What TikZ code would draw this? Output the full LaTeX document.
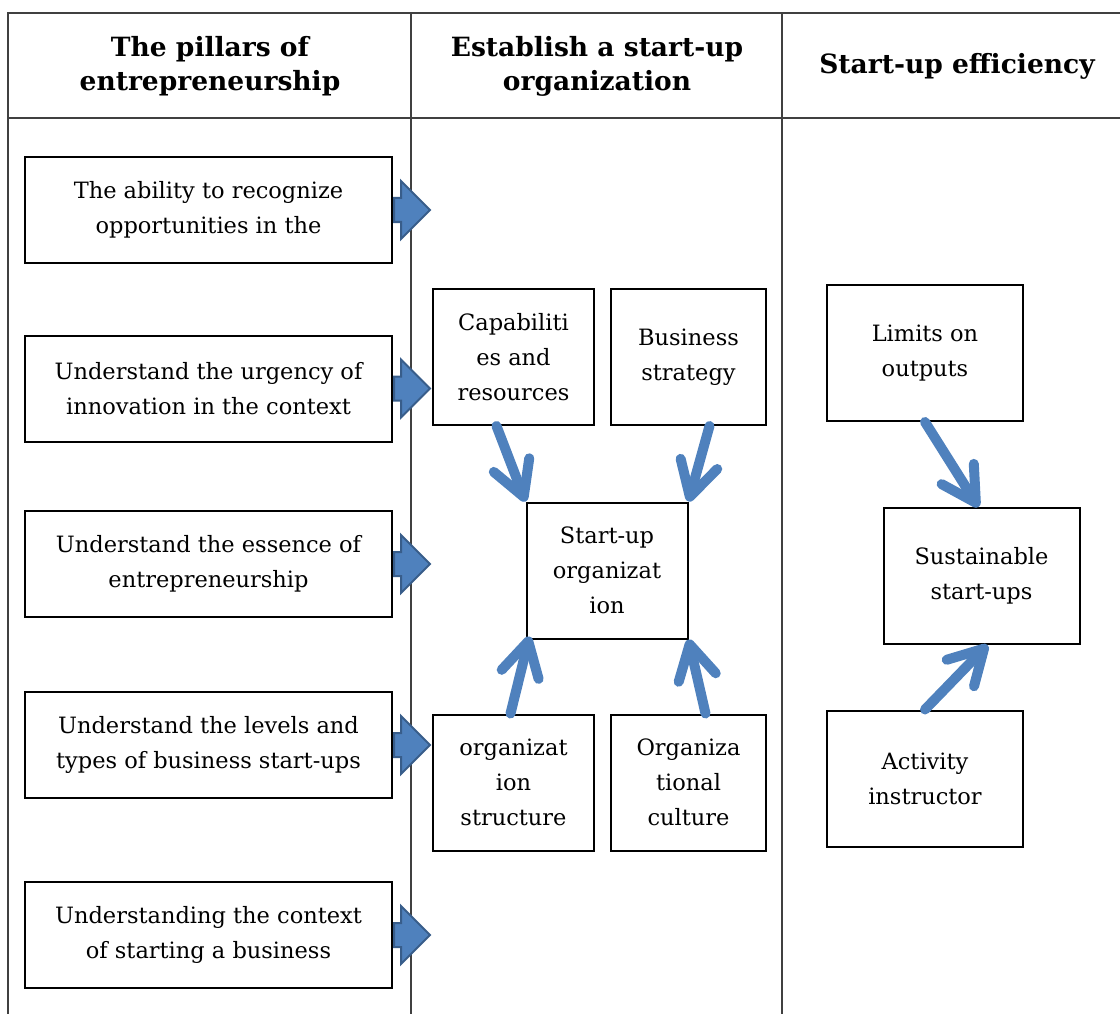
\documentclass[tikz,border=0pt]{standalone}
\usepackage{fontspec}
\setmainfont{DejaVu Serif}
\usetikzlibrary{arrows.meta,shapes.arrows,positioning}
\definecolor{flowblue}{RGB}{79,129,189}
\definecolor{flowedge}{RGB}{56,93,138}
\definecolor{gridgray}{RGB}{64,64,64}
\begin{document}
\begin{tikzpicture}[x=1pt,y=-1pt,
  box/.style={draw,line width=2pt,align=center,inner sep=0pt,font=\fontsize{22.5}{35}\selectfont},
  pillar/.style={box,minimum width=367pt,minimum height=106pt},
  part/.style={box,minimum width=161pt,minimum height=136pt},
  push/.style={single arrow,draw=flowedge,fill=flowblue,line width=2pt,minimum height=36pt,
    inner xsep=0pt,inner ysep=11pt,single arrow head extend=17pt,anchor=west},
  flow/.style={flowblue,line width=10pt,line cap=round,-{Straight Barb[round,length=34pt,width=38pt]}},
  head/.style={font=\bfseries\fontsize{26.5}{34}\selectfont,align=center}]
   \useasboundingbox (0,0) rectangle (1120,1014);
   \draw[gridgray,line width=1.5pt] (8,1014) -- (8,13) -- (1120,13) (8,118) -- (1120,118)
      (411,13) -- (411,1014) (782,13) -- (782,1014);
   \node[head] (h_1) at (210,66) {The pillars of\\entrepreneurship};
   \node[head] (h_2) at (597,66) {Establish a start-up\\organization};
   \node[head] (h_3) at (957,66) {Start-up efficiency};
   \node[pillar] (p_1) at (208.5,210) {The ability to recognize\\opportunities in the};
   \node[pillar] (p_2) at (208.5,388.5) {Understand the urgency of\\innovation in the context};
   \node[pillar] (p_3) at (208.5,564) {Understand the essence of\\entrepreneurship};
   \node[pillar] (p_4) at (208.5,745) {Understand the levels and\\types of business start-ups};
   \node[pillar] (p_5) at (208.5,935) {Understanding the context\\of starting a business};
   \foreach \i in {1,...,5}
      \node[push] (a_\i) at (p_\i.east) {};
   \node[part] (cap) at (513.5,357) {Capabiliti\\es and\\resources};
   \node[part,minimum width=155pt] (strat) at (688.5,357) {Business\\strategy};
   \node[part] (org) at (607,570.5) {Start-up\\organizat\\ion};
   \node[part] (struct) at (513.5,782.5) {organizat\\ion\\structure};
   \node[part,minimum width=155pt] (cult) at (688.5,782.5) {Organiza\\tional\\culture};
   \node[part,minimum width=196pt] (lim) at (925,353) {Limits on\\outputs};
   \node[part,minimum width=196pt] (sust) at (981.5,576) {Sustainable\\start-ups};
   \node[part,minimum width=196pt] (instr) at (925,778.5) {Activity\\instructor};
   \draw[flow] ([xshift=-17pt]cap.south) -- (org.north west);
   \draw[flow] ([xshift=21pt]strat.south) -- (org.north east);
   \draw[flow] ([xshift=-3pt]struct.north) -- ([shift={(4pt,3pt)}]org.south west);
   \draw[flow] ([xshift=17pt]cult.north) -- (org.south east);
   \draw[flow] (lim.south) -- ([xshift=-3pt]sust.north);
   \draw[flow] (instr.north) -- ([xshift=6pt]sust.south);
\end{tikzpicture}
\end{document}
